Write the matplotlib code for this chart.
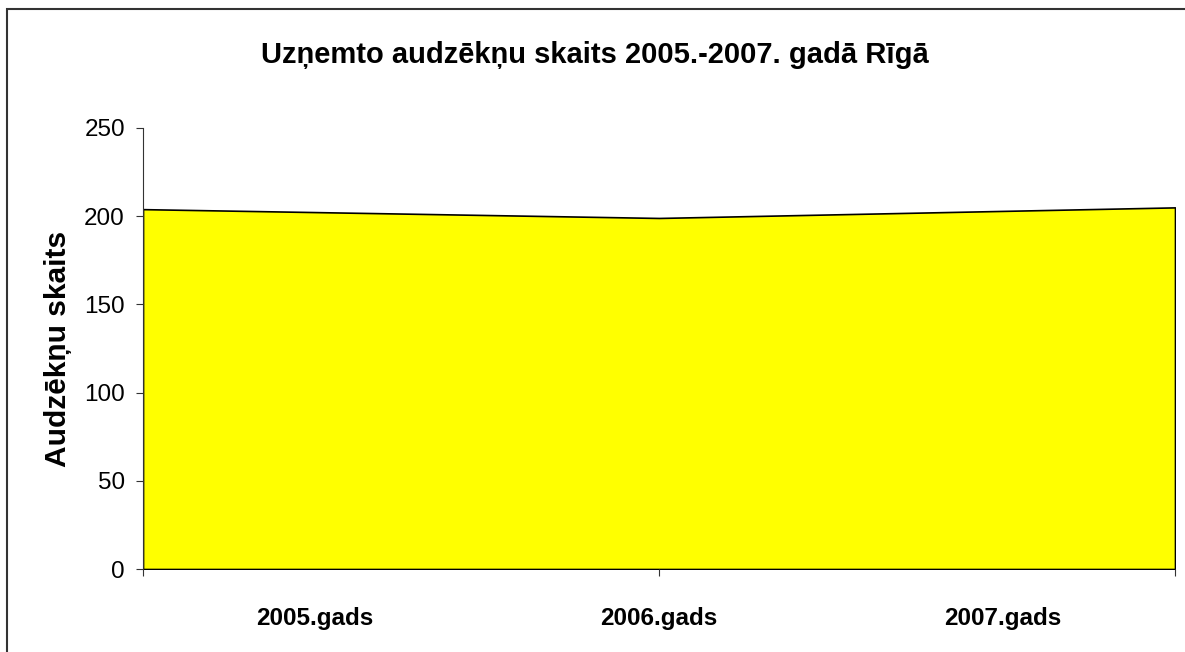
import matplotlib.pyplot as plt
from matplotlib.patches import Rectangle

# dati
gadi = ['2005.gads', '2006.gads', '2007.gads']
audzekni = [204, 199, 205]
yticks = [0, 50, 100, 150, 200, 250]
label_pos = [1/3, 1.0, 5/3]  # kategoriju nosaukumu vietas

plt.rcParams['font.family'] = ['Liberation Sans', 'DejaVu Sans']

fig = plt.figure(figsize=(11.85, 6.52), dpi=100)
ax = fig.add_axes([143/1185, 1-569/652, (1175-143)/1185, (569-128)/652])

x = list(range(len(audzekni)))
ax.fill_between(x, audzekni, 0, facecolor='#ffff00', edgecolor='black', linewidth=1.2)

ax.set_xlim(0, len(audzekni)-1)
ax.set_ylim(0, 250)
ax.set_yticks(yticks)
ax.tick_params(axis='y', labelsize=17.5, length=5, direction='out', pad=8, color='#333333')

ax.xaxis.remove_overlapping_locs = False
ax.set_xticks(x)
ax.set_xticklabels([])
ax.tick_params(axis='x', which='major', length=5, direction='out', color='#333333')
ax.set_xticks(label_pos, minor=True)
ax.set_xticklabels(gadi, minor=True, fontweight='bold', fontsize=17.5)
ax.tick_params(axis='x', which='minor', length=0, pad=27)

for s in ['top', 'right', 'bottom']:
    ax.spines[s].set_visible(False)
ax.spines['left'].set_color('#333333')

ax.set_ylabel('Audzēkņu skaits', fontsize=21.5, fontweight='bold', labelpad=9)
fig.text(595/1185, 1-55/652, 'Uzņemto audzēkņu skaits 2005.-2007. gadā Rīgā',
         ha='center', va='center', fontsize=21, fontweight='bold')

# rāmis
fig.patches.append(Rectangle((7/1185, -0.1), 1.2, 1-9/652+0.1, transform=fig.transFigure,
                             fill=False, edgecolor='#333333', linewidth=1.5))

fig.savefig('out.png', dpi=100)
